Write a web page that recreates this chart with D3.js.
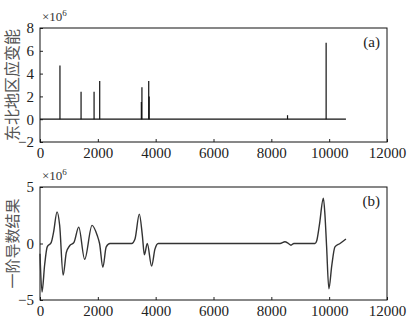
<!DOCTYPE html>
<html>
<head>
<meta charset="utf-8">
<script src="https://cdn.jsdelivr.net/npm/d3@7"></script>
<style>
  body { margin: 0; background: #fff; }
  svg text { font-family: "Liberation Serif", "Times New Roman", serif; }
  svg text.cjk { font-family: "Noto Sans CJK SC", sans-serif; }
</style>
</head>
<body>
<div id="chart"></div>
<script>
// Panel (a): strain energy spikes (position, height in 1e6)
const spikeX = [690, 1420, 1870, 2065, 3505, 3525, 3760, 3775, 8560, 9895];
const spikeY = [4.7, 2.4, 2.4, 3.35, 1.5, 2.8, 3.35, 2.0, 0.35, 6.7];
const baseEnd = 10580;

// Panel (b): first derivative curve (position, value in 1e6)
const derivX = [0, 70, 160, 250, 390, 470, 590, 680, 800, 910, 1025, 1175, 1340, 1545,
  1800, 1980, 2060, 2175, 2290, 2420, 3170, 3285, 3435, 3540, 3610, 3710, 3860, 3975,
  4090, 8300, 8470, 8590, 8680, 8780, 9510, 9570, 9660, 9800, 9855, 9910, 9990, 10090,
  10200, 10375, 10580];
const derivY = [-0.9, -4.3, -1.9, -0.3, 0.1, 1.0, 2.8, 1.6, -2.8, -0.8, -0.2, 0.1, 1.45, -1.4,
  1.6, 0.7, 0, -2.1, -0.3, 0, 0, 0.4, 2.6, 0.7, -1.0, 0.0, -2.0, -0.5,
  0, 0, 0.15, 0, -0.15, 0, 0, 0.25, 1.6, 4.0, 2.5, -0.2, -4.0, -1.95,
  -0.3, 0, 0.4];

const xTicks = [0, 2000, 4000, 6000, 8000, 10000, 12000];
const yTicksA = [-2, 0, 2, 4, 6, 8];
const yTicksB = [-5, 0, 5];

function draw() {
  const width = 411;
  const height = 328;

  const svg = d3
    .select("#chart")
    .append("svg")
    .attr("width", width)
    .attr("height", height);

  const xScale = d3.scaleLinear().domain([0, 12000]).range([40, 387]);

  // Draws one panel frame with axes and labels, returns its y scale
  function panel(top, bottom, domain, yTicks, ylabel, tag, labelSize) {
    const yScale = d3.scaleLinear().domain(domain).range([bottom, top]);

    const xAxis = svg
      .append("g")
      .attr("transform", `translate(0, ${bottom})`)
      .call(
        d3.axisBottom(xScale)
          .tickValues(xTicks)
          .tickFormat(d3.format("d"))
          .tickSizeInner(-3)
          .tickSizeOuter(0)
          .tickPadding(5)
      );
    const yAxis = svg
      .append("g")
      .attr("transform", `translate(40, 0)`)
      .call(
        d3.axisLeft(yScale)
          .tickValues(yTicks)
          .tickFormat(d3.format("d"))
          .tickSizeInner(-3)
          .tickSizeOuter(0)
          .tickPadding(6)
      );
    [xAxis, yAxis].forEach((ax) => {
      ax.attr("font-size", 15);
      ax.select(".domain").remove();
      ax.selectAll(".tick line").attr("stroke", "#222");
      ax.selectAll(".tick text").attr("fill", "#222");
    });

    // box
    svg
      .append("rect")
      .attr("x", 40)
      .attr("y", top)
      .attr("width", 387 - 40)
      .attr("height", bottom - top)
      .attr("fill", "none")
      .attr("stroke", "#111")
      .attr("stroke-width", 1);

    // x10^6 exponent
    const exp = svg
      .append("text")
      .attr("x", 42)
      .attr("y", top - 7)
      .attr("font-size", 13)
      .attr("fill", "#333");
    exp.append("tspan").text("×10");
    exp.append("tspan").attr("dy", -5).attr("font-size", 9).text("6");

    // panel tag
    svg
      .append("text")
      .attr("x", 380)
      .attr("y", top + 19)
      .attr("text-anchor", "end")
      .attr("font-size", 15)
      .attr("fill", "#222")
      .text(tag);

    // y label
    svg
      .append("text")
      .attr("class", "cjk")
      .attr("transform", `translate(18, ${(top + bottom) / 2}) rotate(-90)`)
      .attr("text-anchor", "middle")
      .attr("font-size", labelSize)
      .attr("fill", "#555")
      .text(ylabel);

    return yScale;
  }

  const yA = panel(28, 142, [-2, 8], yTicksA, "东北地区应变能", "(a)", 16);
  const yB = panel(187, 300, [-5, 5], yTicksB, "一阶导数结果", "(b)", 15);

  // panel (a): baseline and spikes
  svg
    .append("line")
    .attr("x1", xScale(0))
    .attr("x2", xScale(baseEnd))
    .attr("y1", yA(0))
    .attr("y2", yA(0))
    .attr("stroke", "#111")
    .attr("stroke-width", 1.2);

  svg
    .append("g")
    .selectAll("line")
    .data(spikeX)
    .join("line")
    .attr("x1", (d) => xScale(d))
    .attr("x2", (d) => xScale(d))
    .attr("y1", yA(0))
    .attr("y2", (d, i) => yA(spikeY[i]))
    .attr("stroke", "#111")
    .attr("stroke-width", 1.2);

  // panel (b): derivative curve
  const points = derivX.map((x, i) => [x, derivY[i]]);
  const lineGenerator = d3
    .line()
    .x((d) => xScale(d[0]))
    .y((d) => yB(d[1]))
    .curve(d3.curveMonotoneX);

  svg
    .append("path")
    .datum(points)
    .attr("d", lineGenerator)
    .attr("fill", "none")
    .attr("stroke", "#333")
    .attr("stroke-width", 1.4);
}

draw();
</script>
</body>
</html>
